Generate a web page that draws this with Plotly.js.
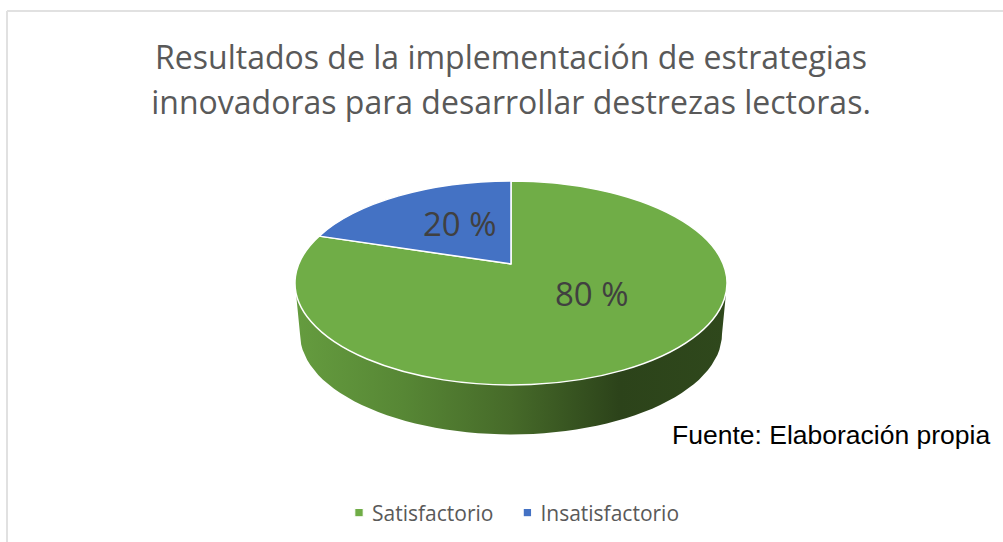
<!DOCTYPE html>
<html>
<head>
<meta charset="utf-8">
<script src="https://cdn.plot.ly/plotly-3.0.1.min.js"></script>
<style>html,body{margin:0;padding:0;background:#fff}#chart{width:1003px;height:542px}</style>
</head>
<body>
<div id="chart"></div>
<script>
const categories = ['Satisfactorio', 'Insatisfactorio'];
const sliceShares = [82.6, 17.4];          // angular share as drawn in the picture
const sliceLabels = ['80 %', '20 %'];      // printed labels
const sliceColors = ['#70AD47', '#4472C4'];
const titleText = 'Resultados de la implementación de estrategias<br>innovadoras para desarrollar destrezas lectoras.';
const sourceText = 'Fuente: Elaboración propia';

const W = 1003, H = 542;
const cx = 511, cy = 283, rx = 216, ry = 102;   // top face
const apexY = 264;                              // perspective apex of the slices
const by = 334, brx = 211, bry = 100.5;         // bottom edge of the wall

// outline of the pie's side wall
const rimX = [], rimY = [];
for (let a = 0; a <= 180; a += 3) {
  const t = a * Math.PI / 180;
  rimX.push(cx - brx * Math.cos(t));
  rimY.push(by + bry * Math.sin(t));
}
rimX.push(cx + rx, cx - rx);
rimY.push(cy, cy);

const rim = {
  type: 'scatter', mode: 'lines', x: rimX, y: rimY,
  line: {width: 0}, fill: 'toself', hoverinfo: 'skip', showlegend: false,
  fillgradient: {type: 'horizontal', colorscale: [
    [0, '#659C3F'], [0.25, '#578735'], [0.5, '#466A29'], [0.75, '#2C431A'], [1, '#2F481C']
  ]}
};
const pie = {
  type: 'pie', labels: categories, values: sliceShares, sort: false,
  direction: 'clockwise', rotation: 0, textinfo: 'none', hoverinfo: 'label+percent',
  marker: {colors: sliceColors, line: {color: '#ffffff', width: 1.5}},
  domain: {x: [(cx - rx) / W, (cx + rx) / W], y: [1 - (cy + rx) / H, 1 - (cy - rx) / H]}
};
const frameColor = '#E1E1E1';
const layout = {
  width: W, height: H, margin: {l: 0, r: 0, t: 0, b: 0},
  paper_bgcolor: '#ffffff', plot_bgcolor: 'rgba(0,0,0,0)',
  font: {family: '"Open Sans", sans-serif', color: '#595959'},
  title: {text: titleText, x: 511 / W, xanchor: 'center', y: 1 - 69 / H, yanchor: 'top',
          font: {family: '"Open Sans", sans-serif', size: 32, color: '#595959'}},
  xaxis: {visible: false, range: [0, W], fixedrange: true},
  yaxis: {visible: false, range: [H, 0], fixedrange: true},
  showlegend: true,
  legend: {orientation: 'h', x: 507.5 / W, xanchor: 'center', y: 1 - 513 / H, yanchor: 'middle',
           font: {size: 21, color: '#595959'}, traceorder: 'normal', bgcolor: 'rgba(0,0,0,0)'},
  shapes: [
    {type: 'line', xref: 'paper', yref: 'paper', x0: 7 / W, x1: 1, y0: 1 - 11 / H, y1: 1 - 11 / H,
     line: {color: frameColor, width: 2}},
    {type: 'line', xref: 'paper', yref: 'paper', x0: 7 / W, x1: 7 / W, y0: 0, y1: 1 - 11 / H,
     line: {color: frameColor, width: 2}}
  ],
  annotations: [
    {text: sliceLabels[0], xref: 'paper', yref: 'paper', x: 592 / W, y: 1 - 293 / H, yanchor: 'middle', showarrow: false,
     font: {size: 33, color: '#404040'}},
    {text: sliceLabels[1], xref: 'paper', yref: 'paper', x: 460 / W, y: 1 - 224 / H, yanchor: 'middle', showarrow: false,
     font: {size: 33, color: '#404040'}},
    {text: sourceText, xref: 'paper', yref: 'paper', x: 992 / W, xanchor: 'right', y: 1 - 435 / H, yanchor: 'middle', showarrow: false,
     font: {family: '"Liberation Sans", Arial, sans-serif', size: 26.5, color: '#000000'}}
  ]
};
Plotly.newPlot('chart', [rim, pie], layout, {displayModeBar: false, staticPlot: true}).then(() => {
  const gd = document.getElementById('chart');
  // tilt the flat pie into the reference's perspective
  const k = ry / rx;
  gd.querySelector('.pielayer').setAttribute('transform',
    `translate(0 ${cy}) scale(1 ${k}) translate(0 ${-cy})`);
  const shift = (apexY - cy) / k;
  gd.querySelectorAll('.pielayer path.surface').forEach(p => {
    p.style.vectorEffect = 'non-scaling-stroke';
    const d = p.getAttribute('d');
    p.setAttribute('d', d.replace(/^M([-\d.e]+),([-\d.e]+)l([-\d.e]+),([-\d.e]+)/,
      (m, x, y, dx, dy) => `M${x},${+y + shift}l${dx},${+dy - shift}`));
  });
  // small square swatches beside the legend text
  gd.querySelectorAll('.legend .legendpoints').forEach(g => {
    g.setAttribute('transform', 'translate(13 0) scale(0.7)');
  });
  // second legend entry sits slightly further right
  const second = gd.querySelectorAll('.legend .traces')[1];
  if (second) second.setAttribute('transform', second.getAttribute('transform').replace(/translate\(([-\d.]+)/, (m, x) => `translate(${+x + 2}`));
  // wider title leading
  const lines = gd.querySelectorAll('.gtitle tspan.line');
  if (lines[1]) lines[1].setAttribute('y', +lines[1].getAttribute('y') + 3);
});
</script>
</body>
</html>
